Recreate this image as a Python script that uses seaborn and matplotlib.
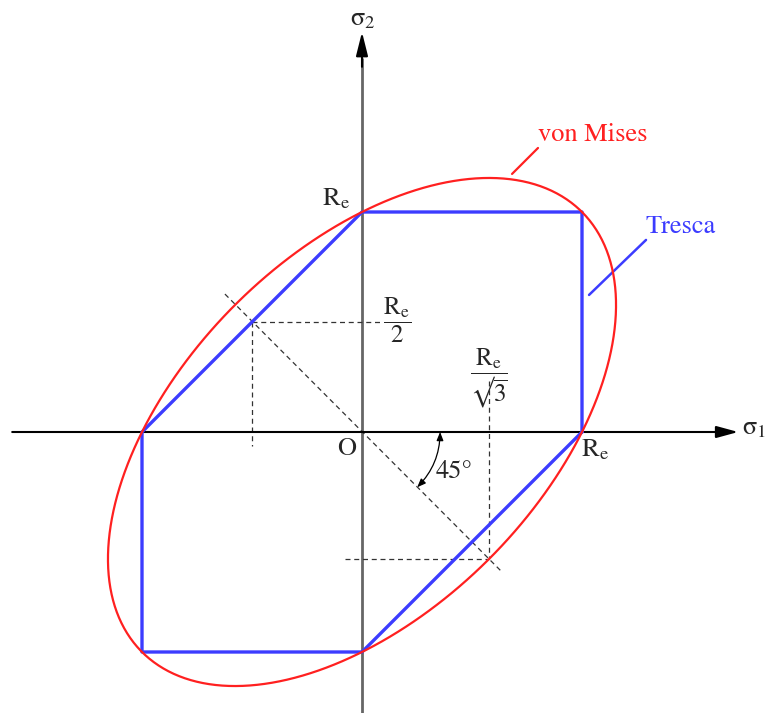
import numpy as np
import pandas as pd
import seaborn as sns
import matplotlib
matplotlib.use("Agg")
import matplotlib.pyplot as plt
from matplotlib.patches import FancyArrowPatch

# ---------------- data ----------------
Re = 1.0
# Tresca hexagon vertices (sigma1, sigma2), in units of Re
tresca_s1 = [1.0, 1.0, 0.0, -1.0, -1.0, 0.0, 1.0]
tresca_s2 = [0.0, 1.0, 1.0, 0.0, -1.0, -1.0, 0.0]
# von Mises ellipse: s1^2 - s1*s2 + s2^2 = Re^2
vm_semi_major = np.sqrt(2.0)          # along the (1,1) direction
vm_semi_minor = np.sqrt(2.0 / 3.0)    # along the (1,-1) direction
theta = np.linspace(0, 2 * np.pi, 400)
u = vm_semi_major * np.cos(theta)
v = vm_semi_minor * np.sin(theta)
vm_s1 = (u + v) / np.sqrt(2)
vm_s2 = (u - v) / np.sqrt(2)

half = 0.5
inv_sqrt3 = 1 / np.sqrt(3)

# ---------------- style ----------------
sns.set_theme(style="white")
plt.rcParams["font.family"] = ["STIXGeneral", "DejaVu Serif"]
plt.rcParams["mathtext.fontset"] = "stix"

fig = plt.figure(figsize=(7.68, 7.13), dpi=100)
ax = fig.add_axes([0, 0, 1, 1])
ax.set_xlim(-362 / 220, (768 - 362) / 220)
ax.set_ylim(-(713 - 432) / 220, 432 / 220)
ax.set_aspect("equal")
ax.axis("off")

blue = "#3c3cff"
red = "#ff2020"

# axes with arrows
ax.plot([0, 0], [-1.35, 1.70], color="#666666", lw=2.0, zorder=1, solid_capstyle="butt")
ax.annotate("", xy=(0, 1.818), xytext=(0, 1.66),
            arrowprops=dict(arrowstyle="-|>,head_length=1.2,head_width=0.3",
                            color="black", lw=1.5, shrinkA=0, shrinkB=0))
ax.annotate("", xy=(1.71, 0), xytext=(-1.59, 0),
            arrowprops=dict(arrowstyle="-|>,head_length=1.1,head_width=0.3",
                            color="black", lw=1.5, shrinkA=0, shrinkB=0))

# dashed construction lines
dash_kw = dict(color="#333333", lw=0.9, linestyle=(0, (4, 3)), zorder=2)
ax.plot([-half, 0.08], [half, half], **dash_kw)
ax.plot([-half, -half], [half, -0.064], **dash_kw)
ax.plot([-0.077, inv_sqrt3], [-inv_sqrt3, -inv_sqrt3], **dash_kw)
ax.plot([inv_sqrt3, inv_sqrt3], [0.232, -inv_sqrt3], **dash_kw)
ax.plot([-0.623, 0.636], [0.627, -0.636], **dash_kw)

# Tresca and von Mises
sns.lineplot(x=tresca_s1, y=tresca_s2, sort=False, estimator=None,
             color=blue, lw=2.4, ax=ax, zorder=4)
sns.lineplot(x=vm_s1, y=vm_s2, sort=False, estimator=None,
             color=red, lw=1.6, ax=ax, zorder=5)

# leader lines
ax.plot([0.682, 0.800], [1.173, 1.291], color=red, lw=1.6)
ax.plot([1.032, 1.291], [0.623, 0.873], color=blue, lw=1.8)

# 45 degree arc
r = 0.355
arc = FancyArrowPatch((r, 0.0), (r * np.cos(np.pi / 4), -r * np.sin(np.pi / 4)),
                      connectionstyle="arc3,rad=-0.2",
                      arrowstyle="<|-|>,head_length=5,head_width=2",
                      color="black", lw=0.9, shrinkA=0, shrinkB=0)
ax.add_patch(arc)

# labels
fs = 19
ax.text(0.005, 1.877, r"$\mathrm{σ}_2$", ha="center", va="center", fontsize=fs)
ax.text(1.727, 0.018, r"$\mathrm{σ}_1$", ha="left", va="center", fontsize=fs)
ax.text(-0.118, 1.06, r"$\mathrm{R_e}$", ha="center", va="center", fontsize=fs)
ax.text(0.995, -0.08, r"$\mathrm{R_e}$", ha="left", va="center", fontsize=fs)
ax.text(-0.068, -0.077, "O", ha="center", va="center", fontsize=fs)
ax.text(0.159, 0.51, r"$\dfrac{\mathrm{R_e}}{2}$", ha="center", va="center", fontsize=fs - 1)
ax.text(0.577, 0.245, r"$\dfrac{\mathrm{R_e}}{\mathrm{√}\overline{3}}$", ha="center", va="center", fontsize=fs - 1)
ax.text(0.418, -0.182, "45°", ha="center", va="center", fontsize=fs)
ax.text(1.05, 1.35, "von Mises", ha="center", va="center", fontsize=fs, color=red)
ax.text(1.45, 0.932, "Tresca", ha="center", va="center", fontsize=fs, color=blue)

fig.savefig("out.png", dpi=100)
